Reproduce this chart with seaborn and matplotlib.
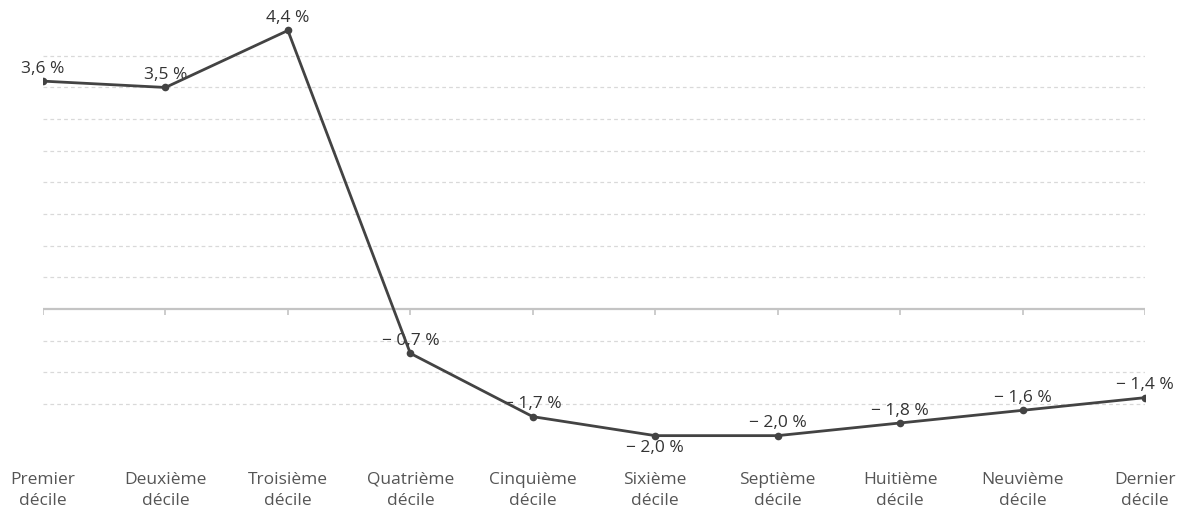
import matplotlib
matplotlib.use("Agg")
import matplotlib.pyplot as plt
import seaborn as sns
import pandas as pd
import numpy as np

# Deciles and the change in each one (%)
categories = ["Premier\ndécile", "Deuxième\ndécile", "Troisième\ndécile",
              "Quatrième\ndécile", "Cinquième\ndécile", "Sixième\ndécile",
              "Septième\ndécile", "Huitième\ndécile", "Neuvième\ndécile",
              "Dernier\ndécile"]
values = [3.6, 3.5, 4.4, -0.7, -1.7, -2.0, -2.0, -1.8, -1.6, -1.4]
# label placement: +1 above the point, -1 below
label_side = [1, 1, 1, 1, 1, -1, 1, 1, 1, 1]

sns.set_theme(style="white")
plt.rcParams["font.family"] = ["Open Sans", "DejaVu Sans"]

df = pd.DataFrame({"pos": np.arange(len(categories)), "value": values})

fig = plt.figure(figsize=(11.81, 5.11), dpi=100)
ax = fig.add_axes([43 / 1181, 0.1227, (1145 - 43) / 1181, 0.861])

# grid lines every 0.5 point, dashed, with a solid zero line
for g in np.arange(-1.5, 4.01, 0.5):
    if abs(g) < 1e-9:
        continue
    ax.axhline(g, color="#d9d9d9", lw=0.9, ls=(0, (3, 2.5)), zorder=0)
ax.axhline(0, color="#c4c4c4", lw=1.6, zorder=1)
ax.vlines(df["pos"], -0.1, 0, color="#c4c4c4", lw=1.2, zorder=1)

sns.lineplot(data=df, x="pos", y="value", ax=ax, color="#434343", lw=2.0,
             marker="o", markersize=5.5, markeredgewidth=0, zorder=3)

for x, v, s in zip(df["pos"], values, label_side):
    txt = f"{abs(v):.1f}".replace(".", ",") + " %"
    if v < 0:
        txt = "\u2212 " + txt
    ax.annotate(txt, (x, v), xytext=(0, 3 * s), textcoords="offset points",
                ha="center", va="bottom" if s > 0 else "top",
                fontsize=12.5, color="#333333", zorder=2)

ax.set_xlim(0, len(categories) - 1)
ax.set_ylim(-2.2, 4.75)
ax.set_xticks(df["pos"])
ax.set_xticklabels(categories, fontsize=12.5, color="#555555", linespacing=1.45)
ax.tick_params(axis="x", length=0, pad=17)
ax.set_yticks([])
ax.set_xlabel("")
ax.set_ylabel("")
for sp in ax.spines.values():
    sp.set_visible(False)

fig.savefig("out.png", dpi=100, facecolor="white")
